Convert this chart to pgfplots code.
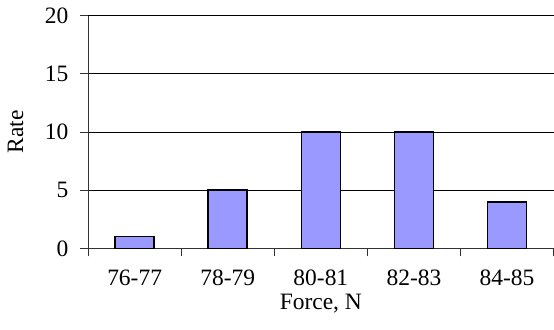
\documentclass[border=0pt]{standalone}
\usepackage{pgfplots}
\pgfplotsset{compat=1.18}
\usepackage{fontspec}
\setmainfont{Liberation Serif}
\definecolor{barfill}{HTML}{9999FF}
\begin{document}
\fontsize{23}{27}\selectfont
\begin{tikzpicture}
\begin{axis}[
  name=ax,
  scale only axis,
  width=466pt, height=233pt,
  xmin=-0.5, xmax=4.5,
  ymin=0, ymax=20,
  axis x line*=bottom, axis y line*=left,
  axis line style={-, black!80, line width=0.8pt},
  xtick={-0.5,0.5,1.5,2.5,3.5,4.5},
  x tick label as interval,
  xticklabels={76-77,78-79,80-81,82-83,84-85},
  ytick={0,5,10,15,20},
  ymajorgrids,
  grid style={black, line width=0.8pt},
  tick align=outside,
  major tick length=8pt,
  tick style={black!80, line width=0.8pt},
  /pgf/number format/assume math mode=true,
  ticklabel style={font=\fontsize{23.5}{27}\selectfont},
  yticklabel style={xshift=-4pt},
  xticklabel style={yshift=-12pt, inner sep=1pt},
  xlabel={Force, N},
  ylabel={Rate},
  label style={font=\fontsize{23.5}{27}\selectfont},
  xlabel style={at={(axis description cs:0.5,0)}, anchor=north, yshift=-45pt, inner sep=1pt},
  ylabel style={yshift=6pt},
]
\addplot[ybar, bar width=39pt, fill=barfill, draw=black, line width=1.6pt]
  coordinates {(0,1) (1,5) (2,10) (3,10) (4,4)};
\end{axis}
\path ([xshift=-88pt,yshift=-81pt]ax.south west) rectangle ([yshift=15pt]ax.north east);
\end{tikzpicture}
\end{document}
